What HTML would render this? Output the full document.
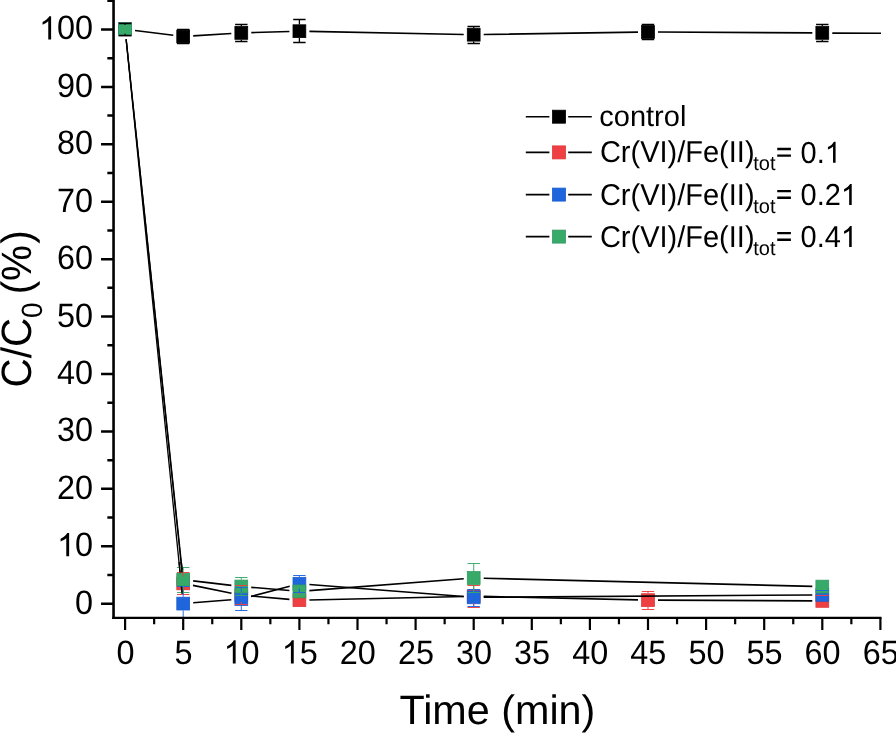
<!DOCTYPE html>
<html><head><meta charset="utf-8"><title>C/C0 vs Time</title>
<style>html,body{margin:0;padding:0;background:#fff}body{width:896px;height:733px;overflow:hidden}svg{display:block;will-change:transform;transform:translateZ(0)}text{font-family:"Liberation Sans",sans-serif;fill:#000;text-rendering:geometricPrecision}</style>
</head><body>
<svg width="896" height="733" viewBox="0 0 896 733">
<rect width="896" height="733" fill="#fff"/>
<defs><clipPath id="pc"><rect x="113.55" y="0" width="767.65" height="617.85"/></clipPath></defs>
<g clip-path="url(#pc)">
<path d="M135.02 30.53L173.28 35.27M193.18 35.88L231.32 33.52M251.30 32.61L289.40 31.49M309.40 31.40L463.70 34.50M483.70 34.55L638.00 32.15M658.00 32.05L812.30 32.85M832.30 33.10L881.00 33.20" fill="none" stroke="#000" stroke-width="1.60"/>
<rect x="118.70" y="22.90" width="12.80" height="12.80" fill="#000" stroke="#000" stroke-width="0.8"/><rect x="176.80" y="30.10" width="12.80" height="12.80" fill="#000" stroke="#000" stroke-width="0.8"/><rect x="234.90" y="26.50" width="12.80" height="12.80" fill="#000" stroke="#000" stroke-width="0.8"/><rect x="293.00" y="24.80" width="12.80" height="12.80" fill="#000" stroke="#000" stroke-width="0.8"/><rect x="467.30" y="28.30" width="12.80" height="12.80" fill="#000" stroke="#000" stroke-width="0.8"/><rect x="641.60" y="25.60" width="12.80" height="12.80" fill="#000" stroke="#000" stroke-width="0.8"/><rect x="815.90" y="26.50" width="12.80" height="12.80" fill="#000" stroke="#000" stroke-width="0.8"/>
<path d="M126.14 39.25L182.16 573.45" fill="none" stroke="#000" stroke-width="1.30"/><path d="M193.00 585.39L231.50 593.21M251.26 596.06L289.44 599.34M309.40 599.97L463.70 596.43M483.70 596.42L638.00 599.88M658.00 600.15L812.30 600.85" fill="none" stroke="#000" stroke-width="1.60"/>
<rect x="118.70" y="22.90" width="12.80" height="12.80" fill="#ee3f42" stroke="#e0383c" stroke-width="0.8"/><rect x="176.80" y="577.00" width="12.80" height="12.80" fill="#ee3f42" stroke="#e0383c" stroke-width="0.8"/><rect x="234.90" y="588.80" width="12.80" height="12.80" fill="#ee3f42" stroke="#e0383c" stroke-width="0.8"/><rect x="293.00" y="593.80" width="12.80" height="12.80" fill="#ee3f42" stroke="#e0383c" stroke-width="0.8"/><rect x="467.30" y="589.80" width="12.80" height="12.80" fill="#ee3f42" stroke="#e0383c" stroke-width="0.8"/><rect x="641.60" y="593.70" width="12.80" height="12.80" fill="#ee3f42" stroke="#e0383c" stroke-width="0.8"/><rect x="815.90" y="594.50" width="12.80" height="12.80" fill="#ee3f42" stroke="#e0383c" stroke-width="0.8"/>
<path d="M126.11 39.25L182.19 593.65" fill="none" stroke="#000" stroke-width="1.30"/><path d="M193.17 602.81L231.33 599.79M250.97 596.46L289.73 586.29M309.37 584.53L463.73 596.57M483.70 597.28L812.30 594.97" fill="none" stroke="#000" stroke-width="1.60"/>
<rect x="118.70" y="22.90" width="12.80" height="12.80" fill="#1f66dd" stroke="#1b5cd0" stroke-width="0.8"/><rect x="176.80" y="597.20" width="12.80" height="12.80" fill="#1f66dd" stroke="#1b5cd0" stroke-width="0.8"/><rect x="234.90" y="592.60" width="12.80" height="12.80" fill="#1f66dd" stroke="#1b5cd0" stroke-width="0.8"/><rect x="293.00" y="577.35" width="12.80" height="12.80" fill="#1f66dd" stroke="#1b5cd0" stroke-width="0.8"/><rect x="467.30" y="590.95" width="12.80" height="12.80" fill="#1f66dd" stroke="#1b5cd0" stroke-width="0.8"/><rect x="815.90" y="588.50" width="12.80" height="12.80" fill="#1f66dd" stroke="#1b5cd0" stroke-width="0.8"/>
<path d="M126.15 39.24L182.15 569.76" fill="none" stroke="#000" stroke-width="1.30"/><path d="M193.13 580.86L231.37 585.34M251.26 587.34L289.44 590.56M309.37 590.63L463.73 578.77M483.70 578.25L812.30 586.35" fill="none" stroke="#000" stroke-width="1.60"/>
<rect x="118.70" y="22.90" width="12.80" height="12.80" fill="#37aa6a" stroke="#339a60" stroke-width="0.8"/><rect x="176.80" y="573.30" width="12.80" height="12.80" fill="#37aa6a" stroke="#339a60" stroke-width="0.8"/><rect x="234.90" y="580.10" width="12.80" height="12.80" fill="#37aa6a" stroke="#339a60" stroke-width="0.8"/><rect x="293.00" y="585.00" width="12.80" height="12.80" fill="#37aa6a" stroke="#339a60" stroke-width="0.8"/><rect x="467.30" y="571.60" width="12.80" height="12.80" fill="#37aa6a" stroke="#339a60" stroke-width="0.8"/><rect x="815.90" y="580.20" width="12.80" height="12.80" fill="#37aa6a" stroke="#339a60" stroke-width="0.8"/>
<path d="M118.90 23.50H131.30M118.90 35.50H131.30" fill="none" stroke="#000" stroke-width="1.30"/><path d="M177.00 29.50H189.40M177.00 43.50H189.40" fill="none" stroke="#000" stroke-width="1.30"/><path d="M235.10 24.50H247.50M235.10 41.50H247.50M241.30 24.50V26.10M241.30 39.70V41.50" fill="none" stroke="#000" stroke-width="1.30"/><path d="M293.20 19.50H305.60M293.20 42.50H305.60M299.40 19.50V24.40M299.40 38.00V42.50" fill="none" stroke="#000" stroke-width="1.30"/><path d="M467.50 26.50H479.90M467.50 43.50H479.90M473.70 26.50V27.90M473.70 41.50V43.50" fill="none" stroke="#000" stroke-width="1.30"/><path d="M641.80 24.50H654.20M641.80 39.50H654.20M648.00 24.50V25.20M648.00 38.80V39.50" fill="none" stroke="#000" stroke-width="1.30"/><path d="M816.10 24.50H828.50M816.10 41.50H828.50M822.30 24.50V26.10M822.30 39.70V41.50" fill="none" stroke="#000" stroke-width="1.30"/>
<path d="M177.00 572.50H189.40M177.00 594.50H189.40M183.20 572.50V576.60M183.20 590.20V594.50" fill="none" stroke="#ee3f42" stroke-width="0.95"/><path d="M235.10 585.50H247.50M235.10 604.50H247.50M241.30 585.50V588.40M241.30 602.00V604.50" fill="none" stroke="#ee3f42" stroke-width="0.95"/><path d="M467.50 585.50H479.90M467.50 607.50H479.90M473.70 585.50V589.40M473.70 603.00V607.50" fill="none" stroke="#ee3f42" stroke-width="0.95"/><path d="M641.80 591.50H654.20M641.80 609.50H654.20M648.00 591.50V593.30M648.00 606.90V609.50" fill="none" stroke="#ee3f42" stroke-width="0.95"/><path d="M816.10 595.50H828.50M816.10 606.50H828.50" fill="none" stroke="#ee3f42" stroke-width="0.95"/>
<path d="M177.00 586.50H189.40M177.00 620.50H189.40M183.20 586.50V596.80M183.20 610.40V620.50" fill="none" stroke="#1f66dd" stroke-width="0.95"/><path d="M235.10 587.50H247.50M235.10 610.50H247.50M241.30 587.50V592.20M241.30 605.80V610.50" fill="none" stroke="#1f66dd" stroke-width="0.95"/><path d="M293.20 575.50H305.60M293.20 592.50H305.60M299.40 575.50V576.95M299.40 590.55V592.50" fill="none" stroke="#1f66dd" stroke-width="0.95"/><path d="M467.50 589.50H479.90M467.50 606.50H479.90M473.70 589.50V590.55M473.70 604.15V606.50" fill="none" stroke="#1f66dd" stroke-width="0.95"/><path d="M816.10 590.50H828.50M816.10 599.50H828.50" fill="none" stroke="#1f66dd" stroke-width="0.95"/>
<path d="M177.00 567.50H189.40M177.00 592.50H189.40M183.20 567.50V572.90M183.20 586.50V592.50" fill="none" stroke="#37aa6a" stroke-width="0.95"/><path d="M235.10 577.50H247.50M235.10 595.50H247.50M241.30 577.50V579.70M241.30 593.30V595.50" fill="none" stroke="#37aa6a" stroke-width="0.95"/><path d="M467.50 563.50H479.90M467.50 592.50H479.90M473.70 563.50V571.20M473.70 584.80V592.50" fill="none" stroke="#37aa6a" stroke-width="0.95"/>
<path d="M125.10 23.6V25.0M125.10 33.6V35.0" stroke="#000" stroke-width="1"/>
<path d="M299.40 588.2V592.3" stroke="#1f66dd" stroke-width="1"/>
<path d="M299.40 592.9V594.8" stroke="#ee3f42" stroke-width="1"/>
<clipPath id="c5"><rect x="150" y="562" width="60" height="10.6"/></clipPath>
<g clip-path="url(#c5)"><path d="M126.14 39.25L182.16 573.45" fill="none" stroke="#000" stroke-width="1.30"/><path d="M126.11 39.25L182.19 593.65" fill="none" stroke="#000" stroke-width="1.30"/><path d="M126.15 39.24L182.15 569.76" fill="none" stroke="#000" stroke-width="1.30"/></g>
<clipPath id="c5b"><rect x="150" y="586.6" width="60" height="8"/></clipPath>
<g clip-path="url(#c5b)"><path d="M126.11 39.25L182.19 593.65" fill="none" stroke="#000" stroke-width="1.30"/></g>
</g>
<path d="M113.55 0V619.05" stroke="#000" stroke-width="2.6" fill="none"/>
<path d="M112.25 617.85H881.50" stroke="#000" stroke-width="2.4" fill="none"/>
<path d="M101.05 603.70H113.55M107.35 574.99H113.55M101.05 546.28H113.55M107.35 517.56H113.55M101.05 488.85H113.55M107.35 460.14H113.55M101.05 431.43H113.55M107.35 402.71H113.55M101.05 374.00H113.55M107.35 345.29H113.55M101.05 316.58H113.55M107.35 287.86H113.55M101.05 259.15H113.55M107.35 230.44H113.55M101.05 201.73H113.55M107.35 173.01H113.55M101.05 144.30H113.55M107.35 115.59H113.55M101.05 86.88H113.55M107.35 58.16H113.55M101.05 29.45H113.55M107.35 0.74H113.55" stroke="#000" stroke-width="2.5" fill="none"/>
<path d="M125.10 617.85V630.05M183.20 617.85V630.05M241.30 617.85V630.05M299.40 617.85V630.05M357.50 617.85V630.05M415.60 617.85V630.05M473.70 617.85V630.05M531.80 617.85V630.05M589.90 617.85V630.05M648.00 617.85V630.05M706.10 617.85V630.05M764.20 617.85V630.05M822.30 617.85V630.05M880.40 617.85V630.05M154.15 617.85V624.15M212.25 617.85V624.15M270.35 617.85V624.15M328.45 617.85V624.15M386.55 617.85V624.15M444.65 617.85V624.15M502.75 617.85V624.15M560.85 617.85V624.15M618.95 617.85V624.15M677.05 617.85V624.15M735.15 617.85V624.15M793.25 617.85V624.15M851.35 617.85V624.15" stroke="#000" stroke-width="2.2" fill="none"/>
<g transform="translate(116.39 663.60)"><text transform="scale(1 1.045)" x="0.00" y="0" font-size="32.40">0</text></g>
<g transform="translate(174.49 663.60)"><text transform="scale(1 1.045)" x="0.00" y="0" font-size="32.40">5</text></g>
<g transform="translate(223.58 663.60)"><path transform="translate(0.00 0) scale(0.01582 -0.01582)" d="M763 0H583V1147Q518 1085 412.5 1023Q307 961 223 930V1104Q374 1175 487 1276Q600 1377 647 1472H763Z"/><text transform="scale(1 1.045)" x="18.02" y="0" font-size="32.40">0</text></g>
<g transform="translate(281.68 663.60)"><path transform="translate(0.00 0) scale(0.01582 -0.01582)" d="M763 0H583V1147Q518 1085 412.5 1023Q307 961 223 930V1104Q374 1175 487 1276Q600 1377 647 1472H763Z"/><text transform="scale(1 1.045)" x="18.02" y="0" font-size="32.40">5</text></g>
<g transform="translate(339.78 663.60)"><text transform="scale(1 1.045)" x="0.00" y="0" font-size="32.40">20</text></g>
<g transform="translate(397.88 663.60)"><text transform="scale(1 1.045)" x="0.00" y="0" font-size="32.40">25</text></g>
<g transform="translate(455.98 663.60)"><text transform="scale(1 1.045)" x="0.00" y="0" font-size="32.40">30</text></g>
<g transform="translate(514.08 663.60)"><text transform="scale(1 1.045)" x="0.00" y="0" font-size="32.40">35</text></g>
<g transform="translate(572.18 663.60)"><text transform="scale(1 1.045)" x="0.00" y="0" font-size="32.40">40</text></g>
<g transform="translate(630.28 663.60)"><text transform="scale(1 1.045)" x="0.00" y="0" font-size="32.40">45</text></g>
<g transform="translate(688.38 663.60)"><text transform="scale(1 1.045)" x="0.00" y="0" font-size="32.40">50</text></g>
<g transform="translate(746.48 663.60)"><text transform="scale(1 1.045)" x="0.00" y="0" font-size="32.40">55</text></g>
<g transform="translate(804.58 663.60)"><text transform="scale(1 1.045)" x="0.00" y="0" font-size="32.40">60</text></g>
<g transform="translate(862.68 663.60)"><text transform="scale(1 1.045)" x="0.00" y="0" font-size="32.40">65</text></g>
<g transform="translate(75.08 613.70)"><text transform="scale(1 1.045)" x="0.00" y="0" font-size="32.40">0</text></g>
<g transform="translate(57.06 556.28)"><path transform="translate(0.00 0) scale(0.01582 -0.01582)" d="M763 0H583V1147Q518 1085 412.5 1023Q307 961 223 930V1104Q374 1175 487 1276Q600 1377 647 1472H763Z"/><text transform="scale(1 1.045)" x="18.02" y="0" font-size="32.40">0</text></g>
<g transform="translate(57.06 498.85)"><text transform="scale(1 1.045)" x="0.00" y="0" font-size="32.40">20</text></g>
<g transform="translate(57.06 441.43)"><text transform="scale(1 1.045)" x="0.00" y="0" font-size="32.40">30</text></g>
<g transform="translate(57.06 384.00)"><text transform="scale(1 1.045)" x="0.00" y="0" font-size="32.40">40</text></g>
<g transform="translate(57.06 326.58)"><text transform="scale(1 1.045)" x="0.00" y="0" font-size="32.40">50</text></g>
<g transform="translate(57.06 269.15)"><text transform="scale(1 1.045)" x="0.00" y="0" font-size="32.40">60</text></g>
<g transform="translate(57.06 211.73)"><text transform="scale(1 1.045)" x="0.00" y="0" font-size="32.40">70</text></g>
<g transform="translate(57.06 154.30)"><text transform="scale(1 1.045)" x="0.00" y="0" font-size="32.40">80</text></g>
<g transform="translate(57.06 96.88)"><text transform="scale(1 1.045)" x="0.00" y="0" font-size="32.40">90</text></g>
<g transform="translate(39.04 39.45)"><path transform="translate(0.00 0) scale(0.01582 -0.01582)" d="M763 0H583V1147Q518 1085 412.5 1023Q307 961 223 930V1104Q374 1175 487 1276Q600 1377 647 1472H763Z"/><text transform="scale(1 1.045)" x="18.02" y="0" font-size="32.40">00</text></g>
<text transform="translate(497.4 723.6) scale(1.033 1.025)" font-size="40" text-anchor="middle">Time (min)</text>
<text transform="translate(31.1 387.45) rotate(-90) scale(1 1.05)" font-size="40.4" text-anchor="start">C/C<tspan font-size="28" dy="10">0</tspan><tspan dy="-10" dx="8.0 -0.2 1.4">(%)</tspan></text>
<path d="M525.8 116.70H549.4M568.2 116.70H591.8" stroke="#000" stroke-width="1.60"/>
<rect x="552.50" y="110.20" width="13.00" height="13.00" fill="#000" stroke="#000" stroke-width="0.8"/>
<path d="M525.8 152.40H549.4M568.2 152.40H591.8" stroke="#000" stroke-width="1.60"/>
<rect x="552.50" y="145.90" width="13.00" height="13.00" fill="#ee3f42" stroke="#e0383c" stroke-width="0.8"/>
<path d="M525.8 194.60H549.4M568.2 194.60H591.8" stroke="#000" stroke-width="1.60"/>
<rect x="552.50" y="188.10" width="13.00" height="13.00" fill="#1f66dd" stroke="#1b5cd0" stroke-width="0.8"/>
<path d="M525.8 236.60H549.4M568.2 236.60H591.8" stroke="#000" stroke-width="1.60"/>
<rect x="552.50" y="230.10" width="13.00" height="13.00" fill="#37aa6a" stroke="#339a60" stroke-width="0.8"/>
<text x="599.3" y="125.80" font-size="29">control</text>
<text transform="translate(599.9 162.30) scale(1 1.04)" font-size="29">Cr(VI)/Fe(II)</text>
<text x="753.3" y="170.40" font-size="20">tot</text>
<g transform="translate(775.60 162.70)"><path transform="translate(0.00 0) scale(0.01416 -0.01416)" d="M115 887H1080V1055H115ZM115 418H1080V586H115Z"/><text transform="scale(1 1.045)" x="24.99" y="0" font-size="29.00">0.</text><path transform="translate(49.18 0) scale(0.01416 -0.01416)" d="M763 0H583V1147Q518 1085 412.5 1023Q307 961 223 930V1104Q374 1175 487 1276Q600 1377 647 1472H763Z"/></g>
<text transform="translate(599.9 204.50) scale(1 1.04)" font-size="29">Cr(VI)/Fe(II)</text>
<text x="753.3" y="212.60" font-size="20">tot</text>
<g transform="translate(775.60 204.90)"><path transform="translate(0.00 0) scale(0.01416 -0.01416)" d="M115 887H1080V1055H115ZM115 418H1080V586H115Z"/><text transform="scale(1 1.045)" x="24.99" y="0" font-size="29.00">0.2</text><path transform="translate(65.31 0) scale(0.01416 -0.01416)" d="M763 0H583V1147Q518 1085 412.5 1023Q307 961 223 930V1104Q374 1175 487 1276Q600 1377 647 1472H763Z"/></g>
<text transform="translate(599.9 246.50) scale(1 1.04)" font-size="29">Cr(VI)/Fe(II)</text>
<text x="753.3" y="254.60" font-size="20">tot</text>
<g transform="translate(775.60 246.90)"><path transform="translate(0.00 0) scale(0.01416 -0.01416)" d="M115 887H1080V1055H115ZM115 418H1080V586H115Z"/><text transform="scale(1 1.045)" x="24.99" y="0" font-size="29.00">0.4</text><path transform="translate(65.31 0) scale(0.01416 -0.01416)" d="M763 0H583V1147Q518 1085 412.5 1023Q307 961 223 930V1104Q374 1175 487 1276Q600 1377 647 1472H763Z"/></g>
</svg></body></html>
